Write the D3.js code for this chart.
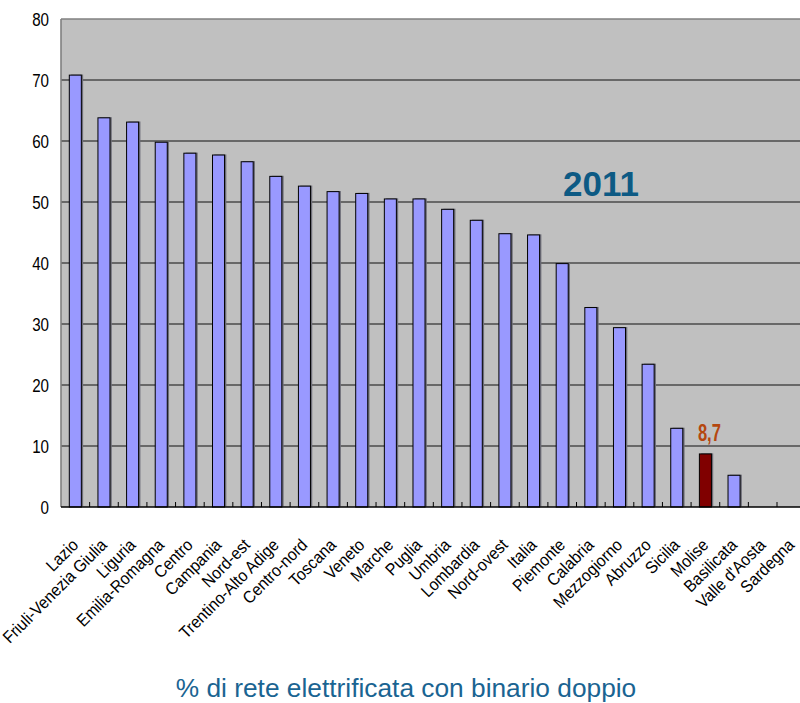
<!DOCTYPE html>
<html>
<head>
<meta charset="utf-8">
<script src="https://cdn.jsdelivr.net/npm/d3@7"></script>
<style>
  body { margin: 0; background: #ffffff; }
  svg { display: block; }
  text { font-family: "Liberation Sans", Arial, sans-serif; }
</style>
</head>
<body>
<script>
// Regions and aggregates, sorted by share of electrified network with double track
const categories = [
  "Lazio", "Friuli-Venezia Giulia", "Liguria", "Emilia-Romagna", "Centro",
  "Campania", "Nord-est", "Trentino-Alto Adige", "Centro-nord", "Toscana",
  "Veneto", "Marche", "Puglia", "Umbria", "Lombardia", "Nord-ovest", "Italia",
  "Piemonte", "Calabria", "Mezzogiorno", "Abruzzo", "Sicilia", "Molise",
  "Basilicata", "Valle d'Aosta", "Sardegna"
];
const values = [
  70.8, 63.8, 63.1, 59.8, 58.0,
  57.7, 56.6, 54.2, 52.6, 51.7,
  51.4, 50.5, 50.5, 48.8, 47.0, 44.8, 44.6,
  39.9, 32.7, 29.4, 23.4, 12.9, 8.7,
  5.2, 0, 0
];
const yTicks = [0, 10, 20, 30, 40, 50, 60, 70, 80];
const highlighted = "Molise";
const yearLabel = "2011";
const caption = "% di rete elettrificata con binario doppio";

const W = 800, H = 703;
const plot = { left: 61, top: 19, bottom: 507, step: 28.64 };
const plotRight = plot.left + plot.step * categories.length;

const svg = d3.select("body").append("svg")
  .attr("width", W).attr("height", H);

const data = categories.map((c, i) => ({ name: c, value: values[i] }));

const x = d3.scaleBand()
  .domain(categories)
  .range([plot.left, plotRight])
  .paddingInner(0.58)
  .paddingOuter(0.29);

const xSlots = d3.scaleBand()
  .domain(categories)
  .range([plot.left, plotRight])
  .padding(0);

const y = d3.scaleLinear()
  .domain([0, 80])
  .range([plot.bottom, plot.top]);

// Plot background
svg.append("rect")
  .attr("x", plot.left).attr("y", plot.top)
  .attr("width", plotRight - plot.left)
  .attr("height", plot.bottom - plot.top)
  .attr("fill", "#c0c0c0");

// Horizontal grid lines
svg.append("g")
  .selectAll("line")
  .data(yTicks.filter(t => t > 0 && t < 80))
  .join("line")
  .attr("x1", plot.left).attr("x2", W)
  .attr("y1", d => y(d)).attr("y2", d => y(d))
  .attr("stroke", "#111").attr("stroke-width", 1);

// Frame: top and left edges
svg.append("line")
  .attr("x1", plot.left).attr("x2", W)
  .attr("y1", y(80)).attr("y2", y(80))
  .attr("stroke", "#808080").attr("stroke-width", 1.6);
svg.append("line")
  .attr("x1", plot.left).attr("x2", plot.left)
  .attr("y1", y(80)).attr("y2", y(0))
  .attr("stroke", "#808080").attr("stroke-width", 1.6);

// Bar shadows
svg.append("g")
  .selectAll("rect")
  .data(data.filter(d => d.value > 0))
  .join("rect")
  .attr("x", d => x(d.name) + 1.8)
  .attr("y", d => y(d.value) - 0.6)
  .attr("width", x.bandwidth())
  .attr("height", d => y(0) - y(d.value))
  .attr("fill", "#6e6e78");

// Bars
svg.append("g")
  .selectAll("rect")
  .data(data.filter(d => d.value > 0))
  .join("rect")
  .attr("x", d => x(d.name))
  .attr("y", d => y(d.value))
  .attr("width", x.bandwidth())
  .attr("height", d => y(0) - y(d.value))
  .attr("fill", d => d.name === highlighted ? "#800000" : "#9999ff")
  .attr("stroke", "#000").attr("stroke-width", 1);

// Category axis line with inner tick marks at slot boundaries
svg.append("line")
  .attr("x1", plot.left).attr("x2", W)
  .attr("y1", y(0)).attr("y2", y(0))
  .attr("stroke", "#000").attr("stroke-width", 1.6);
svg.append("g")
  .selectAll("line")
  .data(categories.slice(1))
  .join("line")
  .attr("x1", d => xSlots(d)).attr("x2", d => xSlots(d))
  .attr("y1", y(0)).attr("y2", y(0) - 5)
  .attr("stroke", "#000").attr("stroke-width", 1);

// Value axis labels
svg.append("g")
  .selectAll("text")
  .data(yTicks)
  .join("text")
  .attr("transform", d => `translate(49,${y(d)}) scale(0.82,1)`)
  .attr("text-anchor", "end")
  .attr("dy", "0.36em")
  .attr("font-size", 18.5)
  .attr("fill", "#000")
  .text(d => d);

// Category labels, rotated
svg.append("g")
  .selectAll("text")
  .data(categories)
  .join("text")
  .attr("transform", d => `translate(${x(d) + x.bandwidth() / 2 + 4},546) rotate(-45) scale(0.92,1)`)
  .attr("text-anchor", "end")
  .attr("font-size", 17)
  .attr("fill", "#000")
  .text(d => d);

// Value label on the highlighted bar
const hi = data.find(d => d.name === highlighted);
svg.append("text")
  .attr("transform", `translate(${x(hi.name) + x.bandwidth() / 2 + 4},${y(hi.value) - 13}) scale(0.72,1)`)
  .attr("text-anchor", "middle")
  .attr("font-size", 23)
  .attr("font-weight", "bold")
  .attr("fill", "#b5470f")
  .text(d3.format(".1f")(hi.value).replace(".", ","));

// Year
svg.append("text")
  .attr("x", 563).attr("y", 196)
  .attr("font-size", 35)
  .attr("font-weight", "bold")
  .attr("fill", "#0d5a84")
  .text(yearLabel);

// Caption
svg.append("text")
  .attr("x", 406).attr("y", 697)
  .attr("text-anchor", "middle")
  .attr("font-size", 26.3)
  .attr("fill", "#1a6492")
  .text(caption);
</script>
</body>
</html>
